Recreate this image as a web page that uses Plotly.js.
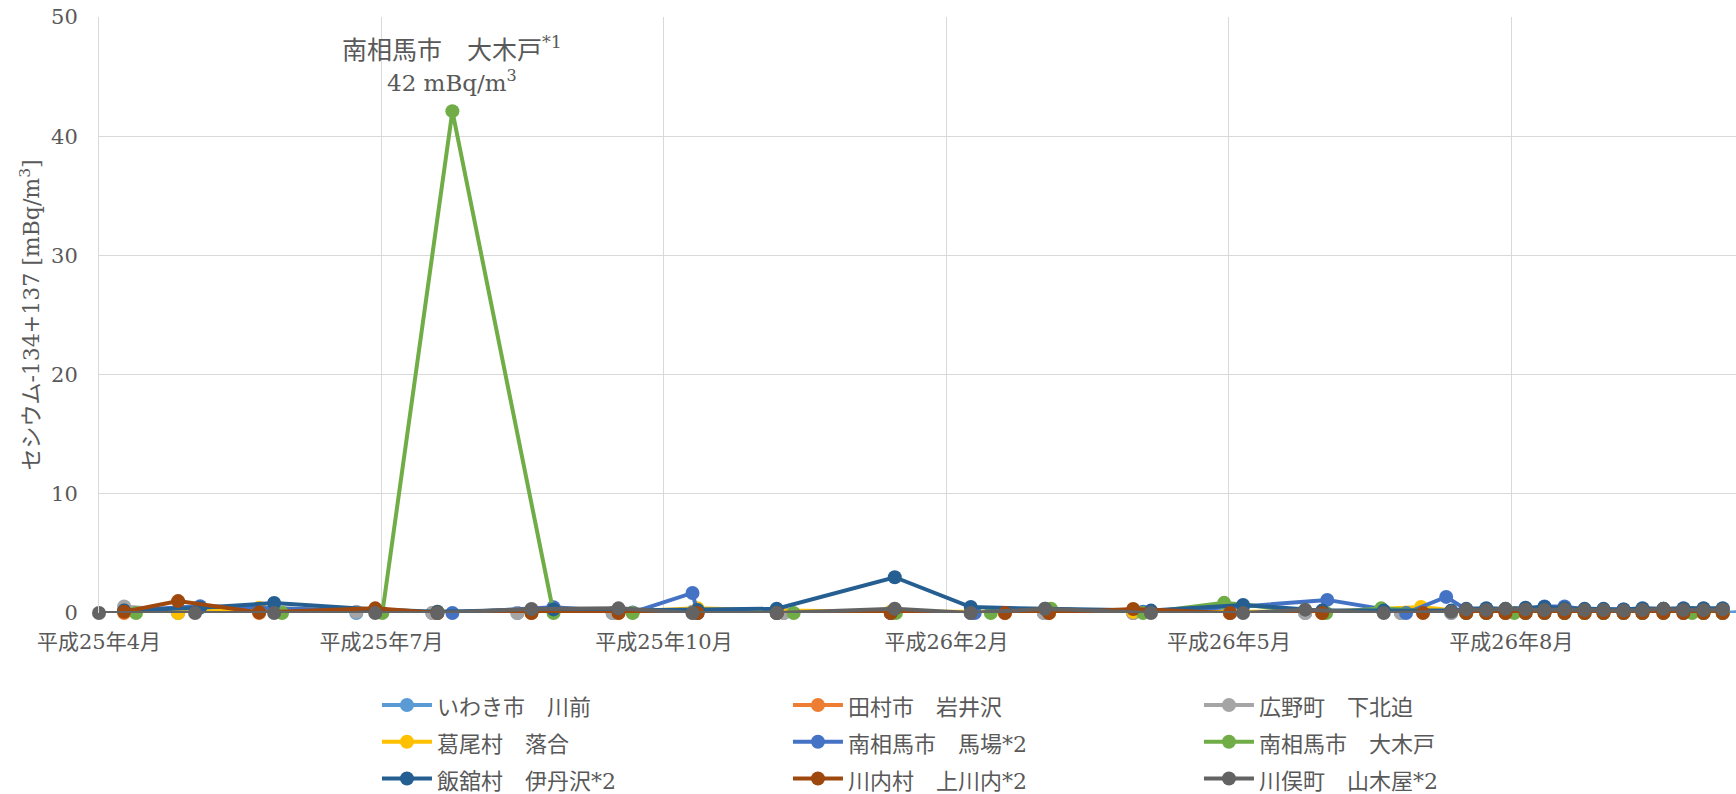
<!DOCTYPE html>
<html>
<head>
<meta charset="utf-8">
<script src="https://cdn.plot.ly/plotly-3.0.1.min.js"></script>
<style>html,body{margin:0;padding:0;background:#fff;}#chart{width:1736px;height:794px;}</style>
</head>
<body>
<div id="chart"></div>
<script>
// ---- category axis (position units; a gridline every 10 units) ----
const tickPositions = [0, 10, 20, 30, 40, 50];
const tickLabels = ['平成25年4月', '平成25年7月', '平成25年10月', '平成26年2月', '平成26年5月', '平成26年8月'];

// weekly sampling positions in the last period
const weekX = [48.40, 49.11, 49.79, 50.50, 51.17, 51.88, 52.59, 53.26, 53.97, 54.64, 55.38, 56.09, 56.80, 57.48];

const seriesNames = ['いわき市　川前', '田村市　岩井沢', '広野町　下北迫', '葛尾村　落合', '南相馬市　馬場*2', '南相馬市　大木戸', '飯舘村　伊丹沢*2', '川内村　上川内*2', '川俣町　山木屋*2'];
const seriesColors = ['#5B9BD5', '#ED7D31', '#A5A5A5', '#FFC000', '#4472C4', '#70AD47', '#255E91', '#9E480E', '#636363'];

// いわき市 川前
const iwakiX = [0.89, 2.80, 5.67, 9.11, 11.80, 14.81, 18.18, 21.01, 24.24, 28.03, 30.86, 33.45, 36.61, 40.04, 42.70, 46.09, 47.87].concat(weekX, [58.15]);
const iwakiY = [0.1, 0, 0.1, 0, 0, 0, 0, 0.1, 0, 0, 0, 0, 0, 0, 0, 0, 0, 0, 0.1, 0, 0, 0.1, 0, 0, 0, 0, 0, 0.05, 0, 0, 0, 0.1];
// 田村市 岩井沢
const tamuraX = [0.89, 2.80, 5.67, 9.78, 11.98, 15.31, 18.39, 21.19, 23.99, 28.03, 32.07, 33.63, 36.61, 40.04, 43.30, 46.87].concat(weekX);
const tamuraY = [0, 0.1, 0, 0.1, 0, 0, 0, 0, 0, 0, 0, 0, 0, 0, 0, 0.1, 0, 0, 0, 0, 0, 0, 0, 0, 0, 0, 0.05, 0, 0, 0];
// 広野町 下北迫
const hironoX = [0.89, 2.80, 5.67, 9.11, 11.80, 14.81, 18.18, 21.01, 24.24, 28.03, 30.86, 33.45, 36.61, 40.04, 42.70, 46.09, 47.87].concat(weekX);
const hironoY = [0.55, 0.2, 0.3, 0.1, 0, 0, 0, 0, 0, 0.1, 0, 0, 0, 0, 0, 0, 0, 0.1, 0, 0.1, 0, 0, 0.1, 0, 0, 0, 0, 0.1, 0, 0, 0];
// 葛尾村 落合
const katsuraoX = [0.89, 2.80, 5.67, 9.78, 11.98, 15.31, 18.39, 21.19, 23.99, 28.03, 31.00, 33.63, 36.61, 40.04, 43.30, 46.80].concat(weekX);
const katsuraoY = [0.2, 0, 0.45, 0.1, 0.1, 0.1, 0.1, 0.39, 0.2, 0.1, 0.1, 0.1, 0.1, 0.1, 0.1, 0.5, 0.1, 0.1, 0.1, 0.1, 0.1, 0.2, 0.1, 0.1, 0.1, 0.1, 0.1, 0.1, 0.1, 0.1];
// 南相馬市 馬場
const babaX = [0.89, 3.58, 12.51, 16.09, 18.89, 21.01, 21.19, 23.99, 28.03, 31.00, 33.63, 36.96, 40.50, 43.48, 46.27, 47.69].concat(weekX);
const babaY = [0.2, 0.56, 0, 0.48, 0.05, 1.68, 0, 0, 0, 0, 0.1, 0.1, 0.55, 1.1, 0, 1.35, 0.3, 0.3, 0.3, 0.35, 0.55, 0.55, 0.3, 0.3, 0.3, 0.3, 0.35, 0.3, 0.3, 0.3];
// 南相馬市 大木戸
const okidoX = [1.31, 6.48, 10.03, 12.51, 16.09, 18.89, 24.59, 28.21, 31.57, 33.70, 36.96, 39.83, 43.44, 45.39, 48.40, 49.11, 50.10, 50.50, 51.17, 51.88, 52.59, 53.26, 53.97, 54.64, 55.38, 56.40, 56.80, 57.48];
const okidoY = [0, 0, 0, 42.1, 0, 0, 0, 0, 0, 0.36, 0, 0.85, 0, 0.39, 0, 0, 0, 0, 0, 0, 0, 0, 0, 0, 0, 0, 0, 0];
// 飯舘村 伊丹沢
const iitateX = [0.89, 3.58, 6.20, 9.78, 11.98, 16.09, 18.39, 21.19, 23.99, 28.17, 30.86, 33.49, 37.24, 40.50, 43.30, 45.48, 47.87].concat(weekX);
const iitateY = [0.2, 0.45, 0.84, 0.3, 0.1, 0.3, 0.2, 0.25, 0.36, 3.0, 0.5, 0.35, 0.2, 0.68, 0.2, 0.2, 0.2, 0.35, 0.4, 0.35, 0.45, 0.5, 0.4, 0.35, 0.35, 0.3, 0.4, 0.35, 0.4, 0.4, 0.4];
// 川内村 上川内
const kawauchiX = [0.89, 2.80, 5.67, 9.78, 11.98, 15.31, 18.39, 21.19, 24.00, 28.03, 32.07, 33.63, 36.61, 40.04, 43.30, 46.87].concat(weekX);
const kawauchiY = [0.1, 1.0, 0.05, 0.39, 0, 0, 0, 0, 0, 0, 0, 0, 0.34, 0, 0, 0, 0, 0, 0, 0, 0, 0, 0, 0, 0, 0, 0, 0, 0, 0];
// 川俣町 山木屋
const kawamataX = [0, 3.40, 6.20, 9.78, 11.98, 15.31, 18.39, 21.01, 23.99, 28.17, 30.86, 33.49, 37.24, 40.50, 42.70, 45.48, 47.87].concat(weekX);
const kawamataY = [0, 0, 0, 0, 0, 0.34, 0.39, 0, 0, 0.36, 0, 0.36, 0, 0, 0.28, 0, 0.1, 0.3, 0.25, 0.35, 0.3, 0.25, 0.3, 0.25, 0.25, 0.2, 0.25, 0.35, 0.25, 0.25, 0.3];

const seriesX = [iwakiX, tamuraX, hironoX, katsuraoX, babaX, okidoX, iitateX, kawauchiX, kawamataX];
const seriesY = [iwakiY, tamuraY, hironoY, katsuraoY, babaY, okidoY, iitateY, kawauchiY, kawamataY];

// data label of the peak
const peakSeries = 5;
const peakLabelLine1 = '南相馬市　大木戸<sup>*1</sup>';
const peakLabelLine2 = '42 mBq/m<sup>3</sup>';

const FONT = '"DejaVu Serif", "Noto Sans CJK JP", serif';
const TXT = '#595959';

const traces = seriesNames.map((name, i) => ({
  type: 'scatter',
  mode: 'lines+markers',
  name: '<span style="font-size:22px">' + name + '</span>',
  x: seriesX[i],
  y: seriesY[i],
  line: {color: seriesColors[i], width: 4},
  marker: {color: seriesColors[i], size: 14},
  cliponaxis: false,
  hoverinfo: 'skip'
}));

// locate the peak from the data
const pk = seriesY[peakSeries].indexOf(Math.max(...seriesY[peakSeries]));
const peakX = seriesX[peakSeries][pk];
const peakY = seriesY[peakSeries][pk];

const layout = {
  width: 1736,
  height: 794,
  margin: {l: 99, r: 0, t: 17, b: 181, autoexpand: false},
  paper_bgcolor: '#ffffff',
  plot_bgcolor: '#ffffff',
  font: {family: FONT, color: TXT, size: 21},
  showlegend: true,
  xaxis: {
    range: [0, 57.95],
    tickmode: 'array',
    tickvals: tickPositions,
    ticktext: tickLabels,
    showgrid: true,
    gridcolor: '#D9D9D9',
    gridwidth: 1,
    zeroline: false,
    showline: false,
    ticks: 'outside',
    ticklen: 10,
    tickcolor: 'rgba(0,0,0,0)',
    tickfont: {family: FONT, size: 21, color: TXT}
  },
  yaxis: {
    range: [0, 50],
    tick0: 0,
    dtick: 10,
    showgrid: true,
    gridcolor: '#D9D9D9',
    gridwidth: 1,
    zeroline: false,
    showline: true,
    linecolor: '#D9D9D9',
    linewidth: 1,
    ticks: 'outside',
    ticklen: 16,
    tickcolor: 'rgba(0,0,0,0)',
    tickfont: {family: FONT, size: 21, color: TXT},
    title: {text: 'セシウム-134+137 [mBq/m<sup>3</sup>]', font: {family: FONT, size: 22, color: TXT}, standoff: 5}
  },
  legend: {
    orientation: 'h',
    x: 0.1698,
    xanchor: 'left',
    y: -0.115,
    yanchor: 'top',
    entrywidth: 346,
    entrywidthmode: 'pixels',
    itemwidth: 50,
    traceorder: 'normal',
    font: {family: FONT, size: 26, color: TXT},
    bgcolor: 'rgba(0,0,0,0)'
  },
  annotations: [
    {x: peakX, y: peakY, xref: 'x', yref: 'y', text: peakLabelLine1, showarrow: false, yshift: 63, xanchor: 'center', yanchor: 'middle', font: {family: FONT, size: 25, color: TXT}},
    {x: peakX, y: peakY, xref: 'x', yref: 'y', text: peakLabelLine2, showarrow: false, yshift: 30, xanchor: 'center', yanchor: 'middle', font: {family: FONT, size: 23, color: TXT}}
  ]
};

Plotly.newPlot('chart', traces, layout, {displayModeBar: false, staticPlot: true});
</script>
</body>
</html>
